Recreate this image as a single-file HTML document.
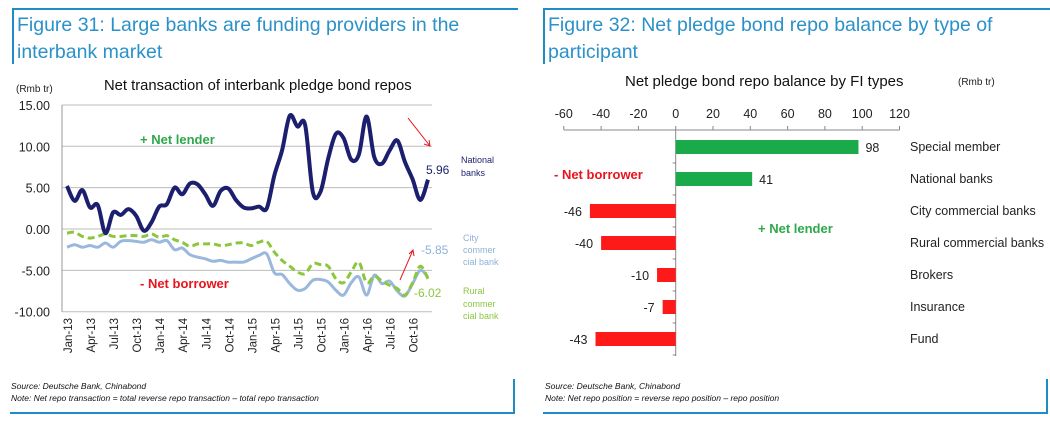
<!DOCTYPE html>
<html><head><meta charset="utf-8"><style>
body{margin:0;width:1050px;height:425px;background:#fff;overflow:hidden;font-family:"Liberation Sans",sans-serif}
svg{display:block}
</style></head><body>
<svg id="s" width="1050" height="425" xmlns="http://www.w3.org/2000/svg" font-family="Liberation Sans, sans-serif">
<g>
<rect x="12" y="8" width="506" height="2" fill="#1f8dc5"/>
<rect x="12" y="8" width="2" height="56" fill="#1f8dc5"/>
<text x="17" y="31" font-size="19.5" fill="#2a91c9">Figure 31: Large banks are funding providers in the</text>
<text x="17" y="58" font-size="19.5" fill="#2a91c9">interbank market</text>
<text x="16" y="92" font-size="10" fill="#222">(Rmb tr)</text>
<text x="104" y="90" font-size="14.8" fill="#111">Net transaction of interbank pledge bond repos</text>
<g id="lc"></g>
<text x="140" y="144" font-size="13" font-weight="bold" fill="#2ea84a">+ Net lender</text>
<text x="140" y="288" font-size="13" font-weight="bold" fill="#e8141e">- Net borrower</text>
<text x="426" y="174" font-size="12" fill="#1b1f6e">5.96</text>
<text x="461" y="163" font-size="9" fill="#1b1f6e">National</text>
<text x="461" y="176" font-size="9" fill="#1b1f6e">banks</text>
<text x="421" y="254" font-size="12" fill="#8fb0d8">-5.85</text>
<text x="463" y="241" font-size="9" fill="#8fb0d8">City</text>
<text x="463" y="253" font-size="9" fill="#8fb0d8">commer</text>
<text x="463" y="265" font-size="9" fill="#8fb0d8">cial bank</text>
<text x="414" y="297" font-size="12" fill="#8cc63f">-6.02</text>
<text x="463" y="294" font-size="9" fill="#8cc63f">Rural</text>
<text x="463" y="307" font-size="9" fill="#8cc63f">commer</text>
<text x="463" y="319" font-size="9" fill="#8cc63f">cial bank</text>
<g stroke="#e8141e" stroke-width="1" fill="none"><line x1="408" y1="118" x2="430" y2="146"/><path d="M424 144 L430 146 L429 140"/></g>
<g stroke="#e8141e" stroke-width="1" fill="none"><line x1="400" y1="280" x2="413" y2="250"/><path d="M409 254 L413 250 L414 256"/></g>
<text x="11" y="389" font-size="8.5" font-style="italic" fill="#111">Source: Deutsche Bank, Chinabond</text>
<text x="11" y="401" font-size="8.5" font-style="italic" fill="#111">Note: Net repo transaction = total reverse repo transaction – total repo transaction</text>
<rect x="10" y="412" width="505" height="2" fill="#1f8dc5"/>
<rect x="513" y="379" width="2" height="35" fill="#1f8dc5"/>
</g>
<g>
<rect x="543" y="8" width="507" height="2" fill="#1f8dc5"/>
<rect x="543" y="8" width="2" height="56" fill="#1f8dc5"/>
<text x="548" y="31" font-size="19.5" fill="#2a91c9">Figure 32: Net pledge bond repo balance by type of</text>
<text x="548" y="58" font-size="19.5" fill="#2a91c9">participant</text>
<text x="625" y="86" font-size="15" fill="#111">Net pledge bond repo balance by FI types</text>
<text x="958" y="85" font-size="10" fill="#222">(Rmb tr)</text>
<g id="rc"></g>
<text x="554" y="179" font-size="13" font-weight="bold" fill="#e8141e">- Net borrower</text>
<text x="758" y="233" font-size="13" font-weight="bold" fill="#2ea84a">+ Net lender</text>
<text x="545" y="389" font-size="8.5" font-style="italic" fill="#111">Source: Deutsche Bank, Chinabond</text>
<text x="545" y="401" font-size="8.5" font-style="italic" fill="#111">Note: Net repo position = reverse repo position – repo position</text>
<rect x="543" y="412" width="505" height="2" fill="#1f8dc5"/>
<rect x="1046" y="379" width="2" height="35" fill="#1f8dc5"/>
</g>
</svg>
<script>
const xLabels=["Jan-13","Apr-13","Jul-13","Oct-13","Jan-14","Apr-14","Jul-14","Oct-14","Jan-15","Apr-15","Jul-15","Oct-15","Jan-16","Apr-16","Jul-16","Oct-16"];
const yTicks=[15,10,5,0,-5,-10];
const nationalBanks=[5.2,3.4,4.7,2.6,2.9,-0.5,2.0,1.7,2.4,1.6,-0.2,0.8,2.7,3.0,5.0,4.2,5.5,5.4,4.2,2.8,4.6,4.9,3.5,2.6,2.5,2.7,2.5,6.5,9.5,13.7,12.4,12.6,4.5,4.5,8.5,11.5,11.0,8.4,9.0,13.6,8.7,7.9,9.5,10.7,8.1,6.0,3.5,5.96];
const cityBanks=[-2.2,-1.9,-2.2,-2.0,-2.2,-1.7,-2.2,-1.5,-1.4,-1.5,-1.6,-1.3,-1.6,-1.4,-2.5,-2.3,-3.1,-3.4,-3.6,-3.9,-3.8,-4.0,-4.0,-4.0,-3.6,-3.2,-3.0,-5.3,-5.5,-6.6,-7.4,-7.2,-6.2,-6.1,-6.4,-7.4,-8.0,-6.5,-5.8,-8.0,-5.6,-6.6,-6.3,-7.5,-8.1,-6.6,-5.0,-5.85];
const ruralBanks=[-0.5,-0.4,-0.9,-1.1,-0.9,-0.6,-0.9,-0.9,-0.8,-0.8,-0.9,-0.6,-1.0,-0.8,-1.3,-1.6,-2.1,-1.8,-1.8,-1.8,-2.0,-1.9,-1.7,-1.7,-2.0,-1.6,-1.5,-2.8,-3.8,-4.5,-5.2,-5.4,-4.2,-4.3,-4.5,-6.0,-6.5,-5.2,-4.0,-6.5,-5.7,-6.3,-6.8,-7.2,-8.0,-6.5,-4.5,-6.02];
const categories=["Special member","National banks","City commercial banks","Rural commercial banks","Brokers","Insurance","Fund"];
const balances=[98,41,-46,-40,-10,-7,-43];
const bTicks=[-60,-40,-20,0,20,40,60,80,100,120];

const NS="http://www.w3.org/2000/svg";
function mk(p,t,a){const e=document.createElementNS(NS,t);for(const k in a)e.setAttribute(k,a[k]);p.appendChild(e);return e;}
const lc=document.getElementById('lc');
const X0=62,X1=432,PX0=67,PX1=428;
const ly=v=>229-v*8.27;
const lx=i=>PX0+i*(PX1-PX0)/(nationalBanks.length-1);
yTicks.forEach(t=>{
  const g=mk(lc,'line',{x1:X0,x2:X1,y1:ly(t),y2:ly(t),stroke:'#bdbdbd','stroke-width':1});
  
  
  const tx=mk(lc,'text',{x:50,y:ly(t)+5,'text-anchor':'end','font-size':12.5,fill:'#222'});
  tx.textContent=t.toFixed(2);
  
  
});
const ax=mk(lc,'line',{x1:X0,x2:X0,y1:ly(15),y2:ly(-10),stroke:'#999'});


xLabels.forEach((l,k)=>{
  const x=lx(k*3)+4;
  const t=mk(lc,'text',{x:0,y:0,transform:`translate(${x+1},318) rotate(-90)`,'text-anchor':'end','font-size':11.5,fill:'#222'});
  t.textContent=l;
  
  
});
function smooth(vals){
  const p=vals.map((v,i)=>[lx(i),ly(v)]);
  let d=`M${p[0][0]},${p[0][1]}`;
  for(let i=0;i<p.length-1;i++){
    const a=p[i-1]||p[i],b=p[i],c=p[i+1],e=p[i+2]||c;
    d+=` C${b[0]+(c[0]-a[0])/6},${b[1]+(c[1]-a[1])/6} ${c[0]-(e[0]-b[0])/6},${c[1]-(e[1]-b[1])/6} ${c[0]},${c[1]}`;
  }
  return d;
}
const pc=mk(lc,'path',{d:smooth(cityBanks),fill:'none',stroke:'#9ab7dc','stroke-width':3});


const pr=mk(lc,'path',{d:smooth(ruralBanks),fill:'none',stroke:'#8cc63f','stroke-width':3,'stroke-dasharray':'7,4'});


const pn=mk(lc,'path',{d:smooth(nationalBanks),fill:'none',stroke:'#1b1f6e','stroke-width':4});


const rc=document.getElementById('rc');
const bx=v=>675.7+v*(37.3/20);
const AY=130,step=32;
const cy=i=>147+i*step;
const hl=mk(rc,'line',{x1:bx(-60),x2:bx(120),y1:AY,y2:AY,stroke:'#888'});


bTicks.forEach(t=>{
  const tk=mk(rc,'line',{x1:bx(t),x2:bx(t),y1:AY-4,y2:AY,stroke:'#888'});
  
  
  const tx=mk(rc,'text',{x:bx(t),y:118,'text-anchor':'middle','font-size':12.5,fill:'#222'});
  tx.textContent=t;
  
  
});
const vl=mk(rc,'line',{x1:bx(0),x2:bx(0),y1:AY,y2:AY+categories.length*step+2,stroke:'#888'});


categories.forEach((c,i)=>{
  const tk=mk(rc,'line',{x1:bx(0)-3,x2:bx(0),y1:AY+(i+1)*step+1,y2:AY+(i+1)*step+1,stroke:'#888'});
  
  
  const v=balances[i];
  const r=mk(rc,'rect',{x:Math.min(bx(0),bx(v)),y:cy(i)-7,width:Math.abs(bx(v)-bx(0)),height:14,fill:v>=0?'#1aaa4a':'#ff1a1a'});
  
  
  const vt=mk(rc,'text',{x:v>=0?bx(v)+7:bx(v)-8,y:cy(i)+5,'text-anchor':v>=0?'start':'end','font-size':12.5,fill:'#222'});
  vt.textContent=v;
  
  
  const ct=mk(rc,'text',{x:910,y:cy(i)+4,'font-size':12.5,fill:'#222'});
  ct.textContent=c;
  
  
});
</script>
</body></html>
